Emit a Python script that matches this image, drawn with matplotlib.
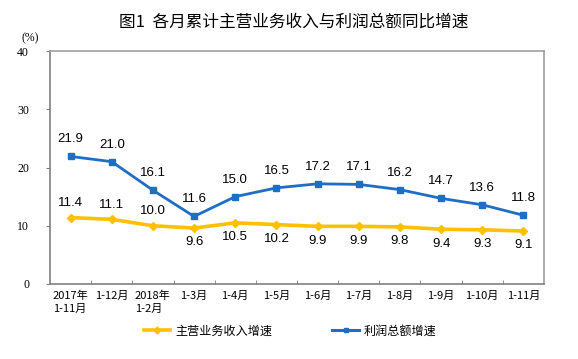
import matplotlib
matplotlib.use("Agg")
import matplotlib.pyplot as plt
from matplotlib.lines import Line2D

plt.rcParams['font.family'] = ['Noto Sans CJK SC', 'DejaVu Sans']

categories = ["2017年\n1-11月", "1-12月", "2018年\n1-2月", "1-3月", "1-4月", "1-5月",
              "1-6月", "1-7月", "1-8月", "1-9月", "1-10月", "1-11月"]
revenue = [11.4, 11.1, 10.0, 9.6, 10.5, 10.2, 9.9, 9.9, 9.8, 9.4, 9.3, 9.1]
profit = [21.9, 21.0, 16.1, 11.6, 15.0, 16.5, 17.2, 17.1, 16.2, 14.7, 13.6, 11.8]
revenue_label_above = [True, True, True, False, False, False, False, False, False, False, False, False]
yticks = [0, 10, 20, 30, 40]

c_rev = '#FFC000'
c_pro = '#1F6EC4'

fig = plt.figure(figsize=(5.78, 3.59), dpi=100)
ax = fig.add_axes([50/578, 1-284/359, (544-50)/578, (284-51)/359])

x = list(range(len(categories)))
ax.plot(x, profit, color=c_pro, lw=2.0, marker='s', ms=4.5, zorder=3)
ax.plot(x, revenue, color=c_rev, lw=2.6, marker='D', ms=4.5, zorder=3)

lab_font = dict(family=['Liberation Sans', 'DejaVu Sans'], fontsize=9.5, color='#000000')
for i, v in enumerate(profit):
    ax.annotate(f"{v:.1f}", (i, v), xytext=(0, 8), textcoords='offset points',
                ha='center', va='bottom', **lab_font)
for i, v in enumerate(revenue):
    if revenue_label_above[i]:
        ax.annotate(f"{v:.1f}", (i, v), xytext=(0, 6), textcoords='offset points',
                    ha='center', va='bottom', **lab_font)
    else:
        ax.annotate(f"{v:.1f}", (i, v), xytext=(0, -6), textcoords='offset points',
                    ha='center', va='top', **lab_font)

ax.set_xlim(-0.5, len(categories) - 0.5)
ax.set_ylim(0, 40)
ax.set_yticks(yticks)
ax.set_yticklabels([str(t) for t in yticks], family=['Liberation Serif', 'DejaVu Serif'], fontsize=8.5)
ax.set_xticks(x)
ax.set_xticklabels(categories, fontsize=8, multialignment='left', linespacing=1.35)
ax.set_xticks([i + 0.5 for i in x[:-1]], minor=True)
ax.tick_params(axis='x', which='major', length=0, pad=5)
ax.tick_params(axis='x', which='minor', length=3, direction='in', color='#808080')
ax.tick_params(axis='y', length=3, direction='out', color='#808080', pad=12)
for s in ax.spines.values():
    s.set_color('#a0a0a0')
    s.set_linewidth(1.2)
ax.spines['left'].set_color('#808080')
ax.spines['bottom'].set_color('#808080')

fig.text(294/578, 1-22/359, "图1  各月累计主营业务收入与利润总额同比增速", ha='center', va='center',
         fontsize=12, fontweight='medium')
fig.text(30/578, 1-38/359, "(%)", ha='center', va='center', fontsize=8.5,
         family=['Liberation Serif', 'DejaVu Serif'])

handles = [Line2D([], [], color=c_rev, lw=2.6, marker='D', ms=3.5),
           Line2D([], [], color=c_pro, lw=2.2, marker='s', ms=3.5)]
fig.legend(handles, ["主营业务收入增速", "利润总额增速"], loc='center',
           bbox_to_anchor=(290/578, 1-331/359), ncol=2, frameon=False, fontsize=8.7,
           handlelength=2.2, columnspacing=5, handletextpad=0.4)

fig.savefig("out.png", dpi=100)
